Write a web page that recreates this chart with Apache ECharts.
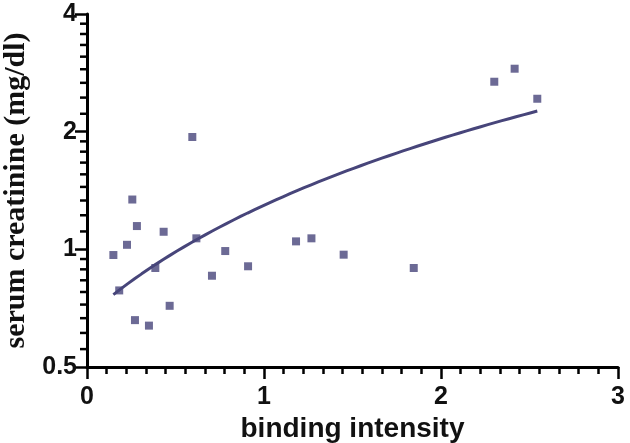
<!DOCTYPE html>
<html>
<head>
<meta charset="utf-8">
<script src="https://cdn.jsdelivr.net/npm/echarts@6/dist/echarts.min.js"></script>
<style>html,body{margin:0;padding:0;background:#fff;}#c{width:630px;height:443px;}</style>
</head>
<body>
<div id="c"></div>
<script>
// binding intensity (x) and serum creatinine mg/dl (y)
var bindingIntensity = [0.149, 0.182, 0.226, 0.256, 0.271, 0.282, 0.350, 0.386, 0.433, 0.467, 0.595,
  0.618, 0.706, 0.781, 0.910, 1.181, 1.268, 1.450, 1.846, 2.301, 2.416, 2.544];
var serumCreatinine = [0.967, 0.785, 1.027, 1.341, 0.659, 1.147, 0.638, 0.896, 1.109, 0.717, 1.938,
  1.067, 0.856, 0.990, 0.905, 1.048, 1.067, 0.969, 0.896, 2.684, 2.898, 2.428];
var xTickLabels = [0, 1, 2, 3];
var yTickLabels = [0.5, 1, 2, 4];

// linear least-squares fit of the data (drawn on the log y axis)
function fitLine(xs, ys) {
  var n = xs.length, mx = 0, my = 0;
  for (var i = 0; i < n; i++) { mx += xs[i]; my += ys[i]; }
  mx /= n; my /= n;
  var sxy = 0, sxx = 0;
  for (var j = 0; j < n; j++) { sxy += (xs[j] - mx) * (ys[j] - my); sxx += (xs[j] - mx) * (xs[j] - mx); }
  var b = sxy / sxx;
  return { a: my - b * mx, b: b };
}
var fit = fitLine(bindingIntensity, serumCreatinine);
var xMin = Math.min.apply(null, bindingIntensity), xMax = Math.max.apply(null, bindingIntensity);
var fitData = [];
for (var k = 0; k <= 60; k++) {
  var xv = xMin + (xMax - xMin) * k / 60;
  fitData.push([xv, fit.a + fit.b * xv]);
}
var scatterData = bindingIntensity.map(function (x, i) { return [x, serumCreatinine[i]]; });

// minor ticks of the log y axis: 8 linear steps within each octave
var yMinorTicks = [];
for (var t = 0; t < yTickLabels.length - 1; t++) {
  var lo = yTickLabels[t], hi = yTickLabels[t + 1];
  for (var m = 1; m < 9; m++) yMinorTicks.push([0, lo + (hi - lo) * m / 9]);
}

var color = '#47457a';
var chart = echarts.init(document.getElementById('c'));
chart.setOption({
  animation: false,
  backgroundColor: '#fff',
  grid: { left: 87, right: 12, top: 14, bottom: 76, containLabel: false, outerBoundsMode: 'none' },
  xAxis: {
    type: 'value', min: xTickLabels[0], max: xTickLabels[xTickLabels.length - 1], interval: 1,
    name: 'binding intensity', nameLocation: 'middle', nameGap: 42,
    nameTextStyle: { fontFamily: 'Liberation Sans', fontWeight: 'bold', fontSize: 28, color: '#111' },
    axisLine: { show: true, onZero: false, lineStyle: { color: '#000', width: 3 } },
    axisTick: { show: true, length: 12, lineStyle: { color: '#000', width: 2.5 } },
    minorTick: { show: true, splitNumber: 9, length: 7, lineStyle: { color: '#000', width: 2.5 } },
    splitLine: { show: false },
    axisLabel: { margin: 18, fontFamily: 'Liberation Sans', fontWeight: 'bold', fontSize: 25, color: '#111' }
  },
  yAxis: {
    type: 'log', logBase: 2, min: yTickLabels[0], max: yTickLabels[yTickLabels.length - 1],
    name: 'serum creatinine (mg/dl)', nameLocation: 'middle', nameGap: 55,
    nameTextStyle: { fontFamily: 'Liberation Serif', fontWeight: 'bold', fontSize: 30, color: '#111' },
    axisLine: { show: true, lineStyle: { color: '#000', width: 3 } },
    axisTick: { show: true, length: 12, lineStyle: { color: '#000', width: 2.5 } },
    splitLine: { show: false },
    axisLabel: { margin: 10, fontFamily: 'Liberation Sans', fontWeight: 'bold', fontSize: 25, color: '#111',
      formatter: function (v) { return String(Math.round(v * 10) / 10); } }
  },
  series: [
    {
      type: 'custom', silent: true, clip: false, z: 5,
      data: yMinorTicks,
      renderItem: function (params, api) {
        var p = api.coord([0, api.value(1)]);
        return { type: 'line', shape: { x1: p[0] - 7, y1: p[1], x2: p[0], y2: p[1] },
          style: { stroke: '#000', lineWidth: 2.5 } };
      }
    },
    {
      type: 'line', data: fitData, showSymbol: false, symbol: 'none', silent: true,
      lineStyle: { color: color, width: 3 }, z: 3
    },
    {
      type: 'scatter', data: scatterData, symbol: 'rect', symbolSize: 8,
      itemStyle: { color: color }, z: 4
    }
  ]
});
</script>
</body>
</html>
